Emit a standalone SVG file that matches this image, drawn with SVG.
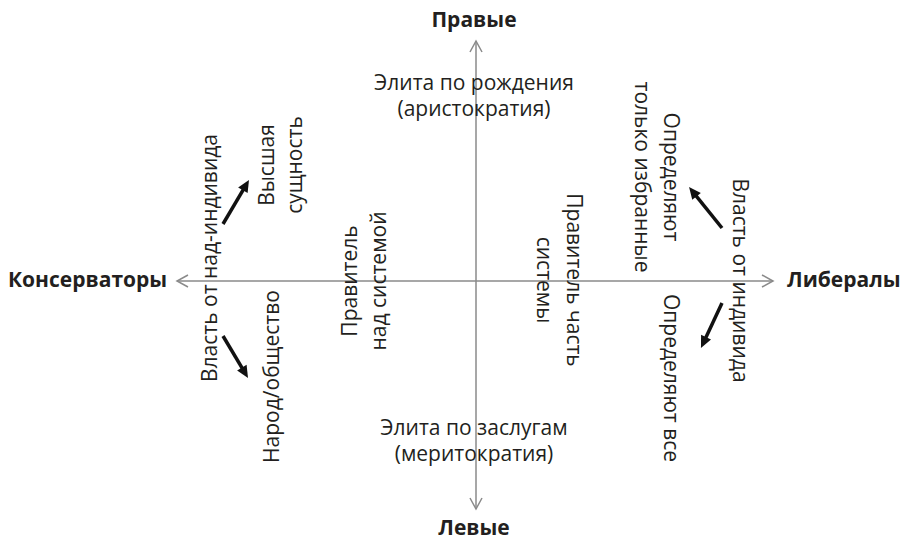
<svg xmlns="http://www.w3.org/2000/svg" width="902" height="541" viewBox="0 0 902 541">
<style>
  text { font-family: "Open Sans", "Noto Sans", "DejaVu Sans", sans-serif; fill: #231f20; }
  .t { font-size: 21px; }
  .b { font-size: 21px; font-weight: bold; }
  .axis { stroke: #8a8a8a; stroke-width: 1.5; fill: none; }
  .arr { stroke: #111; stroke-width: 3.5; fill: none; marker-end: url(#head); }
</style>
<defs>
  <marker id="head" markerUnits="userSpaceOnUse" markerWidth="14" markerHeight="12" refX="2" refY="0" viewBox="0 -6 14 12" orient="auto" overflow="visible">
    <path d="M0,-5.5 L12,0 L0,5.5 Z" fill="#111"/>
  </marker>
</defs>
<g id="connectors">
  <line class="axis" x1="177" y1="281" x2="773" y2="281"/>
  <polyline class="axis" points="188,275 177,281 188,287"/>
  <polyline class="axis" points="762,275 773,281 762,287"/>
  <line class="axis" x1="476" y1="41" x2="476" y2="509"/>
  <polyline class="axis" points="470,52 476,41 482,52"/>
  <polyline class="axis" points="470,498 476,509 482,498"/>
  <line class="arr" x1="223" y1="224" x2="243.9" y2="188.6"/>
  <line class="arr" x1="223" y1="336" x2="242.9" y2="369.4"/>
  <line class="arr" x1="722" y1="228" x2="695.3" y2="194.8"/>
  <line class="arr" x1="722" y1="303" x2="705.2" y2="338.9"/>
</g>
<g id="pravye"><text class="b" x="474" y="27" text-anchor="middle">Правые</text></g>
<g id="levye"><text class="b" x="474" y="535" text-anchor="middle">Левые</text></g>
<g id="konservatory"><text class="b" x="8" y="287">Консерваторы</text></g>
<g id="liberaly"><text class="b" x="787" y="287">Либералы</text></g>
<g id="elita-rozhd"><text class="t" text-anchor="middle"><tspan x="474" y="90">Элита по рождения</tspan><tspan x="474" y="116">(аристократия)</tspan></text></g>
<g id="elita-zasl"><text class="t" text-anchor="middle"><tspan x="474" y="435">Элита по заслугам</tspan><tspan x="474" y="461">(меритократия)</tspan></text></g>
<g id="vlast-nad"><text class="t" text-anchor="middle" transform="translate(216.5,258) rotate(-90)">Власть от над-индивида</text></g>
<g id="vysshaya"><text class="t" text-anchor="middle" transform="translate(274,165) rotate(-90)"><tspan x="0" y="0">Высшая</tspan><tspan x="0" y="28">сущность</tspan></text></g>
<g id="narod"><text class="t" text-anchor="middle" transform="translate(279,376.5) rotate(-90)">Народ/общество</text></g>
<g id="pravitel-nad"><text class="t" text-anchor="middle" transform="translate(357,281) rotate(-90)"><tspan x="0" y="0">Правитель</tspan><tspan x="0" y="28.5">над системой</tspan></text></g>
<g id="pravitel-chast"><text class="t" text-anchor="middle" transform="translate(566.5,280) rotate(90)"><tspan x="0" y="0">Правитель часть</tspan><tspan x="0" y="29.5">системы</tspan></text></g>
<g id="opredelyayut-izbr"><text class="t" text-anchor="middle" transform="translate(663.5,177) rotate(90)"><tspan x="0" y="0">Определяют</tspan><tspan x="0" y="28.5">только избранные</tspan></text></g>
<g id="vlast-ind"><text class="t" text-anchor="middle" transform="translate(732.5,280.5) rotate(90)">Власть от индивида</text></g>
<g id="opredelyayut-vse"><text class="t" text-anchor="middle" transform="translate(663.5,378) rotate(90)">Определяют все</text></g>
</svg>
